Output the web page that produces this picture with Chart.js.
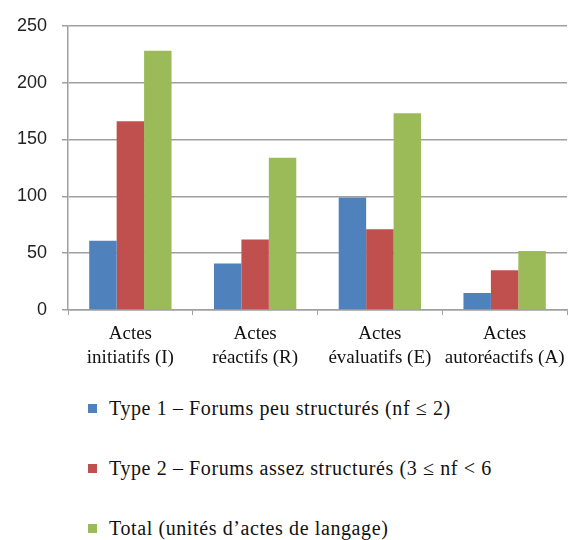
<!DOCTYPE html>
<html>
<head>
<meta charset="utf-8">
<script src="https://cdn.jsdelivr.net/npm/chart.js@4"></script>
<style>
  body { margin: 0; background: #fff; }
  #wrap { position: absolute; left: 0; top: 0; width: 578px; height: 370px; }
  #legend { position: absolute; left: 88px; top: 394px; font-family: 'Liberation Serif', serif; font-size: 20px; letter-spacing: 0.6px; color: #111; }
  .item { display: flex; align-items: center; height: 28px; margin-bottom: 32px; white-space: nowrap; }
  .box { width: 9px; height: 9px; margin-right: 12px; }
</style>
</head>
<body>
<div id="wrap"><canvas id="chart"></canvas></div>
<div id="legend"></div>
<script>
// chart data
const categories = [['Actes', 'initiatifs (I)'], ['Actes', 'réactifs (R)'], ['Actes', 'évaluatifs (E)'], ['Actes', 'autoréactifs (A)']];
const seriesNames = ['Type 1 – Forums peu structurés (nf ≤ 2)', 'Type 2 – Forums assez structurés (3 ≤ nf < 6', 'Total (unités d\u2019actes de langage)'];
const type1 = [61, 41, 99, 15];
const type2 = [166, 62, 71, 35];
const total = [228, 134, 173, 52];
const yTicks = [0, 50, 100, 150, 200, 250];

const colors = ['#4f81bd', '#c0504d', '#9bbb59'];
const values = [type1, type2, total];

const chart = new Chart(document.getElementById('chart'), {
    type: 'bar',
    data: {
        labels: categories,
        datasets: values.map((v, i) => ({
            label: seriesNames[i],
            data: v,
            backgroundColor: colors[i],
            categoryPercentage: 0.66,
            barPercentage: 1
        }))
    },
    options: {
        responsive: true,
        maintainAspectRatio: false,
        animation: false,
        layout: { padding: { top: 11, right: 11, bottom: 0, left: 0 } },
        plugins: { legend: { display: false }, tooltip: { enabled: false } },
        scales: {
            x: {
                afterFit: s => { s.height = 60; },
                grid: { drawOnChartArea: false, color: '#a0a0a0', tickLength: 5, lineWidth: 1 },
                border: { color: '#a0a0a0', width: 1.5 },
                ticks: { color: '#111', padding: 7, maxRotation: 0, font: { family: 'Liberation Serif', size: 19, lineHeight: 1.28 } }
            },
            y: {
                min: 0, max: 250,
                afterFit: s => { s.width = 68; },
                afterBuildTicks: s => { s.ticks = yTicks.map(v => ({ value: v })); },
                grid: { color: '#a0a0a0', lineWidth: 1.5, tickLength: 6 },
                border: { color: '#a0a0a0', width: 1.5 },
                ticks: { color: '#222', padding: 15, font: { family: 'Liberation Sans', size: 18 } }
            }
        }
    }
});

// legend as html, one item per line
document.getElementById('legend').innerHTML = chart.data.datasets.map(d =>
    `<div class="item"><span class="box" style="background:${d.backgroundColor}"></span>${d.label}</div>`).join('');
</script>
</body>
</html>
